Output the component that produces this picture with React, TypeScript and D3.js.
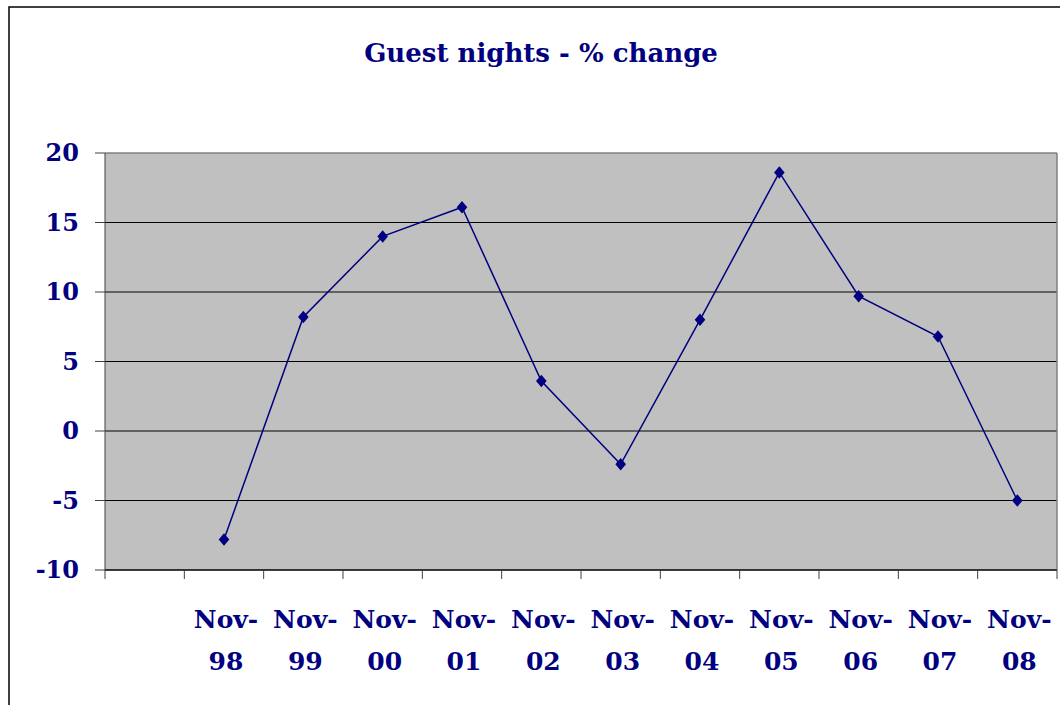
import { useEffect, useRef } from 'react';
import * as d3 from 'd3';

// first slot on the category axis is empty in the source chart
const categories = ['', 'Nov-98', 'Nov-99', 'Nov-00', 'Nov-01', 'Nov-02', 'Nov-03', 'Nov-04', 'Nov-05', 'Nov-06', 'Nov-07', 'Nov-08'];
const values: (number | null)[] = [null, -7.8, 8.2, 14.0, 16.1, 3.6, -2.4, 8.0, 18.6, 9.7, 6.8, -5.0];
const yTicks = [-10, -5, 0, 5, 10, 15, 20];

export default function App() {
  const svgRef = useRef<SVGSVGElement>(null);

  useEffect(() => {
    if (!svgRef.current) return;
    const width = 1060;
    const height = 705;
    const navy = '#000080';
    const font = "'DejaVu Serif', 'Liberation Serif', serif";

    const svg = d3.select(svgRef.current)
      .attr('width', width)
      .attr('height', height);
    svg.selectAll('*').remove();

    const left = 105, right = 1057, top = 153, bottom = 570;

    const x = d3.scaleBand<string>()
      .domain(categories.map((c, i) => String(i)))
      .range([left, right]);
    const y = d3.scaleLinear().domain([-10, 20]).range([bottom, top]);

    // outer chart border (only left and top visible)
    svg.append('path')
      .attr('d', `M9,${height} L9,7 L${width},7`)
      .attr('fill', 'none')
      .attr('stroke', '#000')
      .attr('stroke-width', 1.5);

    svg.append('text')
      .text('Guest nights - % change')
      .attr('x', 541)
      .attr('y', 62)
      .attr('text-anchor', 'middle')
      .attr('fill', navy)
      .style('font-family', font)
      .style('font-weight', 'bold')
      .style('font-size', '26px');

    svg.append('rect')
      .attr('x', left)
      .attr('y', top)
      .attr('width', right - left)
      .attr('height', bottom - top)
      .attr('fill', '#c0c0c0');

    // gridlines
    svg.append('g').selectAll('line')
      .data(yTicks)
      .enter().append('line')
      .attr('x1', left)
      .attr('x2', right)
      .attr('y1', d => y(d))
      .attr('y2', d => y(d))
      .attr('stroke', d => d === 20 ? '#808080' : '#000')
      .attr('stroke-width', d => d === 20 ? 1.5 : 1);

    svg.append('line')
      .attr('x1', right).attr('x2', right)
      .attr('y1', top).attr('y2', bottom)
      .attr('stroke', '#808080').attr('stroke-width', 1.5);

    // y axis
    svg.append('line')
      .attr('x1', left).attr('x2', left)
      .attr('y1', top).attr('y2', bottom)
      .attr('stroke', '#404040').attr('stroke-width', 1);
    svg.append('g').selectAll('line')
      .data(yTicks)
      .enter().append('line')
      .attr('x1', left - 10)
      .attr('x2', left)
      .attr('y1', d => y(d))
      .attr('y2', d => y(d))
      .attr('stroke', '#404040');
    svg.append('g').selectAll('text')
      .data(yTicks)
      .enter().append('text')
      .text(d => String(d))
      .attr('x', 79)
      .attr('y', d => y(d) + 8)
      .attr('text-anchor', 'end')
      .attr('fill', navy)
      .style('font-family', font)
      .style('font-weight', 'bold')
      .style('font-size', '24px');

    // x axis
    svg.append('line')
      .attr('x1', left).attr('x2', right)
      .attr('y1', bottom).attr('y2', bottom)
      .attr('stroke', '#000');
    const tickXs = categories.map((c, i) => x(String(i)) as number).concat([right]);
    svg.append('g').selectAll('line')
      .data(tickXs)
      .enter().append('line')
      .attr('x1', d => d)
      .attr('x2', d => d)
      .attr('y1', bottom)
      .attr('y2', bottom + 9)
      .attr('stroke', '#404040');

    const labels = svg.append('g').selectAll('g')
      .data(categories.map((c, i) => ({ c, i })).filter(d => d.c))
      .enter().append('g')
      .attr('transform', d => `translate(${(x(String(d.i)) as number) + x.bandwidth() / 2 + 2},0)`);
    labels.append('text')
      .text(d => d.c.split('-')[0] + '-')
      .attr('y', 628)
      .attr('text-anchor', 'middle')
      .attr('fill', navy)
      .style('font-family', font)
      .style('font-weight', 'bold')
      .style('font-size', '25px');
    labels.append('text')
      .text(d => d.c.split('-')[1])
      .attr('y', 670)
      .attr('text-anchor', 'middle')
      .attr('fill', navy)
      .style('font-family', font)
      .style('font-weight', 'bold')
      .style('font-size', '25px');

    const pts = values
      .map((v, i) => ({ v, i }))
      .filter(d => d.v !== null) as { v: number; i: number }[];
    const cx = (d: { i: number }) => (x(String(d.i)) as number) + x.bandwidth() / 2;

    const line = d3.line<{ v: number; i: number }>()
      .x(d => cx(d))
      .y(d => y(d.v));
    svg.append('path')
      .datum(pts)
      .attr('d', line)
      .attr('fill', 'none')
      .attr('stroke', navy)
      .attr('stroke-width', 1.5);

    svg.append('g').selectAll('path')
      .data(pts)
      .enter().append('path')
      .attr('d', d3.symbol().type(d3.symbolDiamond2).size(100))
      .attr('transform', d => `translate(${cx(d)},${y(d.v)}) scale(0.85,1)`)
      .attr('fill', navy);
  }, []);

  return <svg ref={svgRef} style={{ position: 'absolute', left: 0, top: 0 }} />;
}
